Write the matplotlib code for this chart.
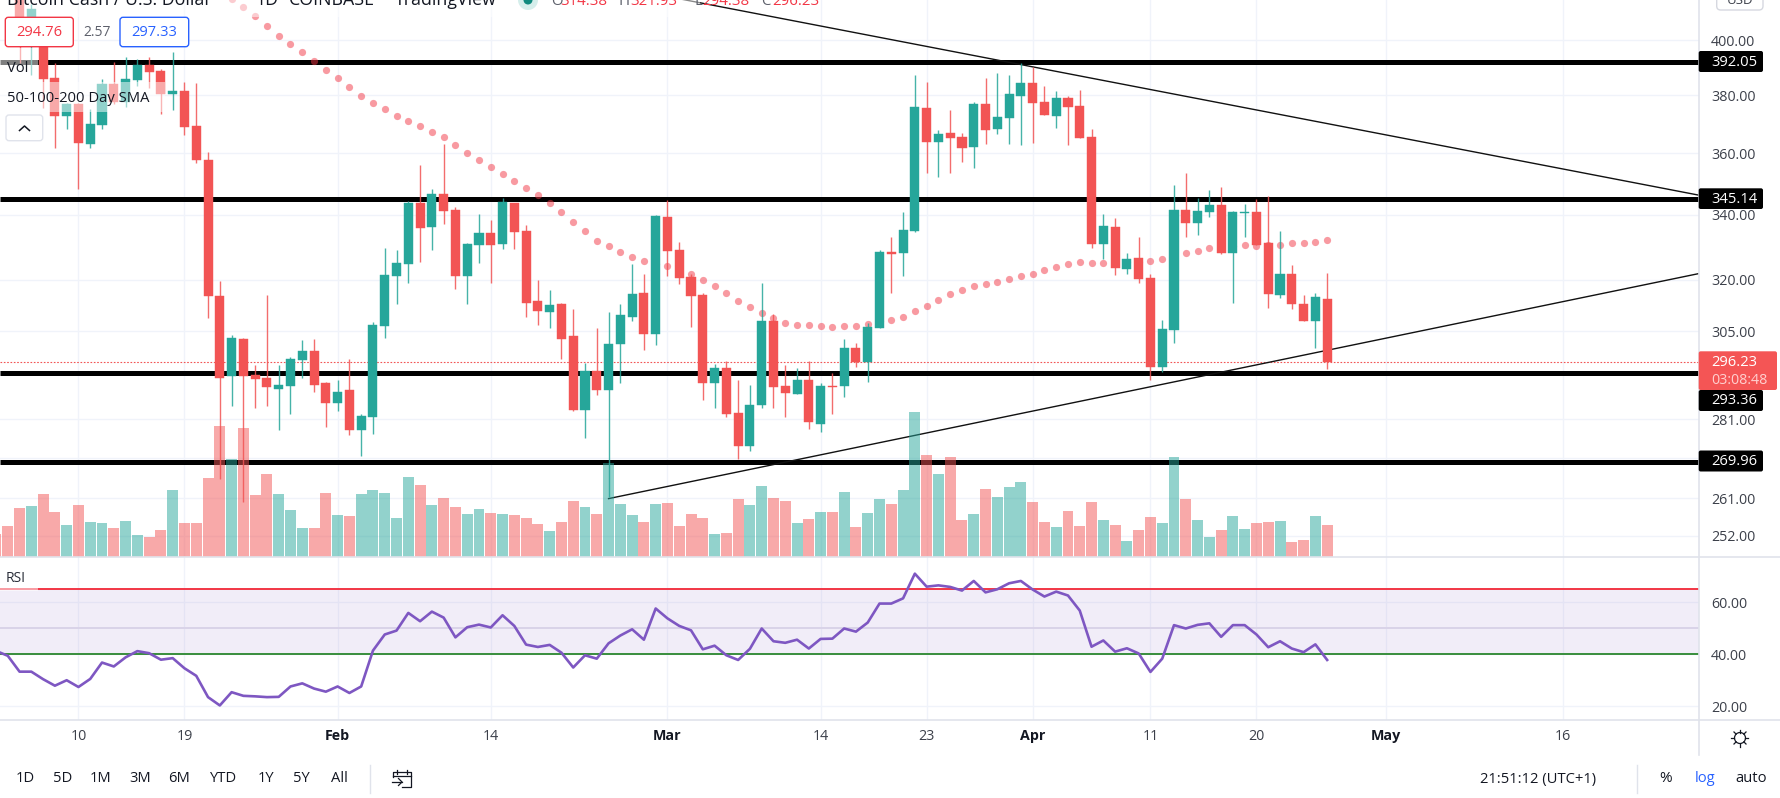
import numpy as np
import pandas as pd
import matplotlib
matplotlib.use("Agg")
import matplotlib.pyplot as plt
from matplotlib.patches import FancyBboxPatch, Rectangle, Circle

plt.rcParams['font.family'] = ['Open Sans', 'DejaVu Sans']

# ---------- data: daily candles, Jan 3 .. Apr 26 ----------
opens = [436,428,420,405,400.3,386.4,372.9,377.0,363.3,369.8,384.2,377.7,385.6,391.1,388.9,380.6,381.7,369.5,357.9,315.3,292.4,302.9,292.9,292.1,289.1,289.9,297.0,299.4,290.5,
         285.3,288.8,278.2,281.6,306.6,321.0,324.8,343.8,336.2,346.7,341.6,321.0,330.6,334.3,330.9,343.8,334.9,313.8,310.4,312.7,303.5,283.5,294.0,288.8,301.4,309.2,316.2,304.3,
         339.4,329.0,320.7,315.6,290.7,294.8,282.7,274.0,284.8,307.8,289.9,287.7,291.3,279.8,289.9,289.9,300.3,296.4,305.8,328.4,328.1,334.9,375.6,363.9,367.0,365.7,362.2,377.0,368.4,372.2,379.9,
         384.5,377.7,372.9,379.1,376.3,365.7,330.9,336.2,323.3,326.6,320.4,295.1,305.2,341.6,337.5,340.9,343.1,328.1,340.6,340.9,331.2,315.6,321.6,312.9,307.8,314.38]
highs = [440,433,424,414,404,391.8,377.5,377.5,375.3,386.0,392.2,394.0,393.2,394.0,389.6,395.8,384.9,384.5,360.5,319.5,304.0,303.2,295.6,315.6,295.6,297.8,302.6,302.9,291.0,
         291.5,297.3,282.2,307.5,329.6,329.0,344.4,356.3,348.3,363.3,342.5,331.2,340.3,338.4,345.4,343.8,336.8,319.8,316.8,313.2,311.5,296.2,305.8,310.4,312.7,324.8,321.8,340.0,
         344.7,331.5,321.8,316.2,295.9,296.7,291.5,290.2,318.9,309.8,295.6,294.8,296.7,290.5,293.4,302.9,301.7,307.2,329.0,333.1,340.9,387.5,384.9,368.1,375.0,367.0,377.7,386.4,388.2,387.2,391.8,
         390.3,383.5,381.7,379.9,382.0,368.4,340.3,339.0,328.1,333.1,321.6,308.1,349.6,353.6,345.4,348.0,349.0,341.2,343.4,345.0,346.0,334.9,324.5,315.6,316.2,321.93]
lows = [425,418,391.8,387.5,375.6,361.9,368.4,348.3,361.9,368.4,377.0,376.0,383.5,382.7,373.6,375.0,366.4,356.9,308.9,265.8,284.5,260.1,284.0,284.5,278.2,282.4,292.1,288.3,278.8,
        283.2,276.9,271.5,277.2,303.2,312.9,318.9,325.4,329.0,337.2,317.1,312.9,325.1,318.9,329.3,329.3,309.2,306.9,305.8,297.3,283.0,276.1,287.5,261.3,290.7,307.8,299.7,301.1,
        321.0,318.6,306.1,286.1,284.0,281.6,270.8,272.8,284.0,284.0,281.6,287.7,278.5,277.5,282.2,286.9,295.1,291.0,305.8,316.2,321.0,334.6,353.6,352.3,353.6,357.2,355.3,363.3,366.7,363.3,362.9,
        363.6,373.2,368.8,362.9,365.3,329.6,326.3,321.3,321.8,318.9,291.3,293.7,301.7,333.1,333.7,339.4,327.8,313.2,333.1,330.6,311.8,314.7,311.5,307.8,300.3,294.38]
closes = [428,420,405,412,386.0,372.9,377.0,363.6,370.1,384.2,377.7,386.0,391.1,388.5,380.6,381.7,369.1,357.9,315.3,292.1,303.2,292.6,291.8,289.6,290.2,297.3,299.4,290.2,285.3,
          288.3,278.2,281.9,306.9,321.3,325.1,343.8,335.9,346.7,341.2,321.0,330.9,334.3,330.6,344.1,334.6,313.2,310.7,312.4,302.9,283.5,294.0,288.8,301.4,309.5,315.9,304.3,339.7,
          328.7,320.4,315.3,290.7,294.8,282.4,274.0,284.8,307.8,289.6,288.0,291.3,280.1,289.9,289.6,300.3,296.4,306.1,328.4,327.8,335.3,376.0,363.9,366.7,365.3,361.9,377.0,368.1,372.6,380.6,384.5,
          377.4,373.2,379.1,376.0,365.3,330.9,336.5,323.6,326.3,320.1,295.1,305.5,341.6,337.5,341.2,343.1,328.1,340.9,340.9,330.6,315.9,321.6,312.9,307.8,315.0,296.23]
volumes = [22.7,30.7,48.7,50.7,62.7,44.7,31.7,51.7,34.7,33.7,28.7,35.7,21.7,19.7,26.7,66.7,33.7,33.7,78.7,130.7,97.7,128.7,61.7,82.7,62.7,46.7,28.7,28.7,63.7,
           41.7,40.7,62.7,66.7,63.7,38.7,79.7,71.7,51.7,58.7,49.7,42.7,47.7,43.7,42.7,41.7,38.7,32.7,25.7,34.7,55.7,49.7,42.7,93.3,52.7,41.7,34.7,52.7,
           53.7,30.7,42.7,38.7,22.7,23.7,57.7,51.7,70.7,58.7,55.7,33.7,37.7,44.7,44.7,64.7,29.7,43.7,57.7,52.7,66.7,144.7,101.7,82.7,99.7,36.7,42.7,67.7,59.7,69.7,74.7,
           54.7,34.7,29.7,45.7,30.7,54.7,36.7,31.7,15.7,26.7,39.7,33.7,99.7,57.7,36.7,19.7,26.7,40.7,27.7,33.7,34.7,35.7,14.7,16.7,40.7,31.7]
rsi = [41.3,39.4,33.3,33.3,30.4,27.9,30.0,27.4,30.5,36.8,35.3,38.8,41.2,40.4,37.9,38.5,34.6,31.7,23.5,20.3,25.4,24.0,23.8,23.5,23.6,27.6,28.8,26.8,25.6,
       27.6,25.1,27.6,41.4,47.6,49.1,55.9,52.7,56.4,54.1,46.5,50.4,51.4,50.3,55.0,50.9,43.7,42.8,43.6,40.6,34.9,39.6,38.3,44.2,47.2,49.6,45.6,57.6,
       53.8,50.9,49.2,41.9,43.3,39.6,37.8,42.1,49.9,45.0,44.4,45.6,42.2,45.9,46.0,49.9,48.7,52.2,59.5,59.5,61.5,71.0,66.0,66.5,65.9,64.5,68.2,63.8,65.0,67.3,68.2,
       64.9,62.2,64.1,62.6,56.8,42.9,45.3,41.0,42.3,40.3,33.2,38.3,51.2,49.9,51.3,51.9,46.7,51.2,51.2,47.6,42.7,45.0,42.2,40.8,43.8,37.8]
# moving average, visible from Jan 23 onward
sma = [415.8,412.7,409.1,405.6,401.8,398.8,395.8,392.5,389.3,
       386.4,383.1,379.9,377.4,375.3,372.9,371.2,369.5,367.4,365.7,362.9,360.3,357.8,355.5,353.2,350.9,348.6,346.3,343.7,340.8,337.7,334.8,331.9,330.1,328.3,326.8,325.6,324.8,
       324.1,322.7,321.8,320.0,318.2,316.1,313.7,312.0,310.3,308.8,307.4,306.8,306.8,306.5,306.2,306.5,306.5,307.1,307.8,308.2,309.1,310.9,312.3,314.0,315.8,317.0,318.2,318.8,319.4,320.3,321.2,
       321.8,323.0,323.9,324.8,325.4,325.1,325.1,325.2,325.3,325.4,325.6,326.2,327.2,328.0,328.6,329.5,329.9,330.2,330.4,330.1,330.4,330.4,331.0,331.0,331.6,332.2]

levels = [392.05, 345.14, 293.36, 269.96]
last_price = 296.23
price_ticks = [400, 380, 360, 340, 320, 305, 293, 281, 271, 261, 252]
rsi_ticks = [60, 40, 20]
rsi_upper, rsi_mid, rsi_lower = 65, 50, 40
date_ticks = ['2022-01-10','2022-01-19','2022-02-01','2022-02-14','2022-03-01','2022-03-14','2022-03-23','2022-04-01','2022-04-11','2022-04-20','2022-05-01','2022-05-16']
date_labels = ['10','19','Feb','14','Mar','14','23','Apr','11','20','May','16']
month_labels = ['Feb','Mar','Apr','May']
# trend lines: (day offset since Jan 1, price) of both ends
upper_trend_x, upper_trend_y = [55, 146.5], [420.3, 346.3]
lower_trend_x, lower_trend_y = [54, 146.5], [260.9, 321.8]

# ---------- layout ----------
W, H = 1781, 798
AX_R, P_B, R_B = 1698.7, 557.3, 720.0
DAY0 = pd.Timestamp('2022-01-01')
dates = pd.date_range('2022-01-03', periods=len(opens))
x = np.asarray((dates - DAY0).days, dtype=float)
x_sma = np.asarray((pd.date_range('2022-01-23', periods=len(sma)) - DAY0).days, dtype=float)
xt = [(pd.Timestamp(d) - DAY0).days for d in date_ticks]
o, h, l, c = map(np.array, (opens, highs, lows, closes))
up = c >= o
TEAL, RED = '#26a69a', '#f25454'
cols = np.where(up, TEAL, RED)
XLIM = (2.34, 146.54)
GRID = '#f0f3fa'
TXT = '#131722'
TICK = '#3c404a'

fig = plt.figure(figsize=(W/100, H/100), dpi=100, facecolor='white')
def rect(y0, y1):
    return [0, 1 - y1/H, AX_R/W, (y1 - y0)/H]

base = fig.add_axes(rect(0, P_B), zorder=1)
vol = fig.add_axes(rect(0, P_B), zorder=2, facecolor='none')
price = fig.add_axes(rect(0, P_B), zorder=3, facecolor='none')
ax_r = fig.add_axes(rect(P_B, R_B), zorder=1)

for a in (base, price):
    a.set_yscale('log')
    a.set_ylim(247.0, 415.4)
    a.set_xlim(*XLIM)
vol.set_xlim(*XLIM)
vol.set_ylim(-0.6, 556.7)
ax_r.set_xlim(*XLIM)
ax_r.set_ylim(14.7, 77.3)

for a in (base, vol, price, ax_r):
    for s in a.spines.values():
        s.set_visible(False)
for a in (vol, price):
    a.set_xticks([]); a.set_yticks([]); a.minorticks_off()
    a.tick_params(which='both', length=0, labelbottom=False, labelleft=False)

# base: grid, ticks, levels
base.yaxis.tick_right()
base.set_yticks(price_ticks)
base.set_yticklabels([f'{v:.2f}' for v in price_ticks])
base.minorticks_off()
base.set_xticks(xt); base.set_xticklabels([])
base.tick_params(axis='both', which='both', length=0, pad=8.9, labelsize=10.3, labelcolor=TICK)
base.grid(True, color=GRID, lw=1.0)
base.set_axisbelow(True)
for lv in levels:
    base.axhline(lv, color='black', lw=3.6, zorder=3, solid_capstyle='butt')
base.axhline(last_price, color=RED, lw=0.8, ls=(0, (1.5, 1.5)), zorder=3)
base.plot(upper_trend_x, upper_trend_y, color='#111111', lw=1.0, zorder=3)
base.plot(lower_trend_x, lower_trend_y, color='#111111', lw=1.0, zorder=3)

# volume
vol.bar(x, volumes, width=0.93, color=cols, alpha=0.5, linewidth=0)

# SMA + candles
price.scatter(x_sma, sma, s=27, color='#f23645', alpha=0.5, linewidths=0, zorder=2)
price.vlines(x, l, h, colors=cols, lw=1.0, alpha=0.85, zorder=3)
price.bar(x, np.abs(c - o), bottom=np.minimum(o, c), width=0.77, color=cols,
          edgecolor=cols, linewidth=0.3, zorder=4)

# RSI
ax_r.yaxis.tick_right()
ax_r.set_yticks(rsi_ticks)
ax_r.set_yticklabels([f'{v:.2f}' for v in rsi_ticks])
ax_r.set_xticks(xt)
ax_r.set_xticklabels(date_labels)
ax_r.tick_params(axis='both', length=0, labelsize=10.3, labelcolor=TICK)
ax_r.tick_params(axis='y', pad=8.9)
ax_r.tick_params(axis='x', pad=6.5)
for t in ax_r.get_xticklabels():
    if t.get_text() in month_labels:
        t.set_fontweight('bold'); t.set_color(TXT)
ax_r.grid(True, color=GRID, lw=1.0)
ax_r.set_axisbelow(True)
ax_r.axhspan(rsi_lower, rsi_upper, color='#7e57c2', alpha=0.1, lw=0, zorder=1)
ax_r.axhline(rsi_upper, color='#f23645', lw=1.4, zorder=2)
ax_r.axhline(rsi_mid, color='#d9d3e8', lw=1.4, zorder=2)
ax_r.axhline(rsi_lower, color='#388e3c', lw=1.4, zorder=2)
ax_r.plot(x, rsi, color='#7e57c2', lw=1.9, zorder=3, solid_joinstyle='round')

# ---------- interface layer (pixel coordinates) ----------
ui = fig.add_axes([0, 0, 1, 1], zorder=10, facecolor='none')
ui.set_xlim(0, W); ui.set_ylim(H, 0); ui.axis('off')

def veil(x0, y0, x1, y1, alpha=0.5):
    ui.add_patch(Rectangle((x0, y0), x1-x0, y1-y0, fc='white', ec='none', alpha=alpha, zorder=1))
veil(0, 0, 700, 17)
veil(0, 48, 38, 77)
veil(0, 82, 165, 112)
veil(0, 567, 38, 591)

# separators
ui.plot([0, W], [P_B, P_B], color='#e0e3eb', lw=1.2, zorder=2)
ui.plot([0, W], [R_B, R_B], color='#e0e3eb', lw=1.2, zorder=2)
ui.plot([AX_R, AX_R], [0, 755], color='#e0e3eb', lw=1.2, zorder=2)
ui.plot([370, 370], [765, 793], color='#e0e3eb', lw=1.0, zorder=2)
ui.plot([1637, 1637], [765, 793], color='#e0e3eb', lw=1.0, zorder=2)

def box(x0, y0, x1, y1, fc, ec='none', lw=1.0, r=2.5, z=3):
    ui.add_patch(FancyBboxPatch((x0, y0), x1-x0, y1-y0, boxstyle=f'round,pad=0,rounding_size={r}',
                                fc=fc, ec=ec, lw=lw, zorder=z))
def txt(px, py, s, size=10.3, color=TXT, ha='left', va='center', weight='normal', z=5, alpha=None):
    ui.text(px, py, s, fontsize=size, color=color, ha=ha, va=va, fontweight=weight, zorder=z, alpha=alpha)

# price labels
for v, y0, y1 in [(levels[0], 51, 72), (levels[1], 188.3, 209), (levels[2], 390, 411), (levels[3], 450.5, 471.5)]:
    box(AX_R, y0, 1763, y1, 'black', r=2)
    txt(1711, (y0+y1)/2 + 0.5, f'{v:.2f}', color='white', size=10.6)
box(AX_R, 351.3, 1777, 390, '#f45555', r=2)
txt(1711, 362.5, f'{last_price:.2f}', color='white', size=10.6)
txt(1711, 380, '03:08:48', color='#ffd0cf', size=10.3)

# USD box
box(1716.7, -8, 1763, 10, 'white', ec='#d6d8e0', r=4)
txt(1740, 1, 'USD', size=9.5, ha='center', color=TICK)

# header
hdr = 12.8
for px, s in [(7, 'Bitcoin Cash / U.S. Dollar'), (255, '1D'), (289, 'COINBASE'), (395, 'TradingView')]:
    txt(px, 5, s, size=hdr, va='baseline')
for px, s in [(244, '·'), (279, '·'), (384, '·')]:
    txt(px, 5, s, size=hdr, va='baseline')
ui.add_patch(Circle((528, 0), 10, fc='#d5eeeb', ec='none', zorder=3))
ui.add_patch(Circle((528, 0), 4.5, fc='#118a7e', ec='none', zorder=4))
for px, s in [(560, '314.38'), (630, '321.93'), (702, '294.38'), (772, '296.23')]:
    txt(px, 5, s, size=10.8, va='baseline', color='#f23645')
for px, s in [(551, 'O'), (619, 'H'), (695, 'L'), (761, 'C')]:
    txt(px, 5, s, size=10.8, va='baseline', color='#5d606b')

# bid / ask
box(5.3, 17.3, 73.3, 46.7, 'white', ec='#f23645', lw=1.0, r=3)
txt(39.3, 32, '294.76', color='#f23645', ha='center', size=10.6)
txt(97, 32, '2.57', color='#5d606b', ha='center', size=10)
box(120, 17.3, 188.7, 46.7, 'white', ec='#2962ff', lw=1.0, r=3)
txt(154.3, 32, '297.33', color='#2962ff', ha='center', size=10.6)

txt(7, 68.5, 'Vol', size=10.5)
txt(7, 98, '50-100-200 Day SMA', size=10.6)
box(6, 115, 42.7, 140.7, 'white', ec='#e0e3eb', lw=1.0, r=3)
ui.plot([19.5, 24.5, 29.5], [130.5, 126, 130.5], color=TXT, lw=1.1, zorder=5)
txt(6, 578.5, 'RSI', size=10.0, color='#2a2e39')

# bottom toolbar
for px, s in [(25.6, '1D'), (62.4, '5D'), (101, '1M'), (140, '3M'), (179, '6M'), (222.7, 'YTD'), (265.6, '1Y'), (301.6, '5Y'), (339, 'All')]:
    txt(px, 779, s, ha='center', size=10.6)
txt(1480.5, 779, '21:51:12 (UTC+1)', size=10.6)
txt(1666, 779, '%', ha='center', size=11)
txt(1704.6, 778, 'log', ha='center', size=10.6, color='#2962ff')
txt(1751, 778, 'auto', ha='center', size=10.6)

# calendar icon
ui.plot([393, 393, 411, 411, 402], [777, 771.5, 771.5, 787, 787], color=TXT, lw=0.9, zorder=5)
ui.plot([397, 397], [769.5, 773.5], color=TXT, lw=0.9, zorder=5)
ui.plot([407, 407], [769.5, 773.5], color=TXT, lw=0.9, zorder=5)
ui.plot([393, 411], [775.5, 775.5], color=TXT, lw=0.9, zorder=5)
ui.plot([392, 402], [782, 782], color=TXT, lw=0.9, zorder=5)
ui.plot([398.5, 402, 398.5], [778.5, 782, 785.5], color=TXT, lw=0.9, zorder=5)

# settings (sun) icon
ui.add_patch(Circle((1740, 738), 5.5, fc='none', ec=TXT, lw=0.9, zorder=5))
for ang in np.arange(0, 360, 45):
    ca, sa = np.cos(np.radians(ang)), np.sin(np.radians(ang))
    ui.plot([1740+5.5*ca, 1740+8.5*ca], [738+5.5*sa, 738+8.5*sa], color=TXT, lw=0.9, zorder=5)

fig.savefig('out.png', dpi=100, facecolor='white')
